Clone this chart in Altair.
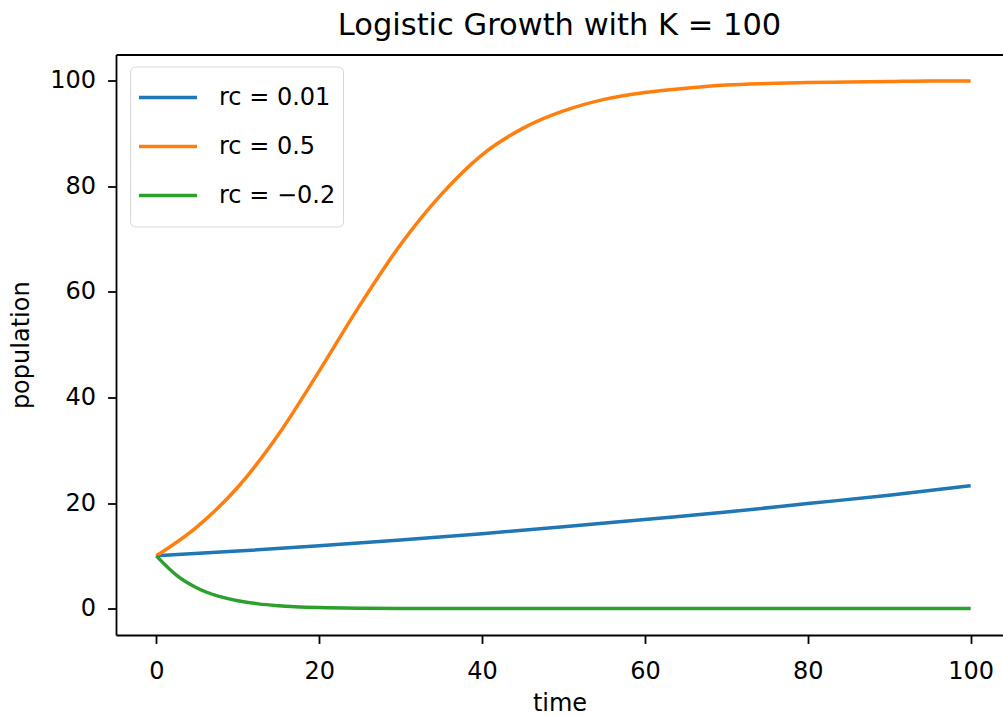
import altair as alt
import pandas as pd

# ---- data ----
series_names = ["rc = 0.01", "rc = 0.5", "rc = \u22120.2"]
series_colors = ["#1f77b4", "#ff7f0e", "#2ca02c"]

t_blue = [0, 10, 20, 30, 40, 50, 60, 70, 80, 90, 100]
v_blue = [10, 10.9, 11.9, 13.0, 14.2, 15.5, 16.9, 18.3, 19.9, 21.5, 23.3]

t_orange = [0, 5, 10, 15, 20, 25, 30, 35, 40, 45, 50, 55, 60, 65, 70, 75, 80, 85, 90, 95, 100]
v_orange = [10, 15.5, 23, 33, 45, 57.5, 69, 78.5, 86, 91, 94.3, 96.5, 97.8, 98.6, 99.2, 99.5,
            99.7, 99.8, 99.9, 100, 100]

t_green = [0, 2.5, 5, 7.5, 10, 12.5, 15, 20, 25, 30, 40, 60, 80, 100]
v_green = [10, 6.3, 3.9, 2.4, 1.5, 0.9, 0.55, 0.2, 0.07, 0.03, 0, 0, 0, 0]

x_ticks = [0, 20, 40, 60, 80, 100]
y_ticks = [0, 20, 40, 60, 80, 100]

rows = []
for name, ts, vs in zip(series_names, [t_blue, t_orange, t_green], [v_blue, v_orange, v_green]):
    for t, v in zip(ts, vs):
        rows.append({"series": name, "time": t, "population": v})
df = pd.DataFrame(rows)

FONT = "DejaVu Sans"
x_scale = alt.Scale(domain=[-4.95, 103.97], nice=False, zero=False)
y_scale = alt.Scale(domain=[-5, 105], nice=False, zero=False)

base = alt.Chart(df)

lines = base.mark_line(strokeWidth=3.5, interpolate="monotone").encode(
    x=alt.X("time:Q", scale=x_scale,
            axis=alt.Axis(values=x_ticks, title="time", labelPadding=16, titlePadding=8,
                          grid=False, format="d")),
    y=alt.Y("population:Q", scale=y_scale,
            axis=alt.Axis(values=y_ticks, title="population", labelPadding=12, titlePadding=16,
                          grid=False, format="d")),
    color=alt.Color("series:N",
                    scale=alt.Scale(domain=series_names, range=series_colors),
                    sort=series_names,
                    legend=alt.Legend(title=None, orient="none", legendX=14, legendY=12,
                                      symbolType="stroke", symbolSize=3364,
                                      symbolStrokeWidth=3.5, labelFont=FONT,
                                      labelFontSize=24, labelColor="black", labelOffset=20,
                                      padding=7, rowPadding=1, clipHeight=48,
                                      strokeColor="#d9d9d9",
                                      fillColor="rgba(255,255,255,0.8)", cornerRadius=5,
                                      labelLimit=400)),
)

top_frame = base.mark_line(opacity=0).encode(
    x=alt.X("time:Q", scale=x_scale,
            axis=alt.Axis(orient="top", labels=False, ticks=False, title=None, grid=False,
                          domain=True)),
    y=alt.Y("population:Q", scale=y_scale, axis=None),
    detail="series:N",
)

chart = alt.layer(lines, top_frame).resolve_axis(x="independent", y="independent").properties(
    width=887,
    height=580.5,
    autosize=alt.AutoSizeParams(type="none"),
    padding={"left": 116, "top": 54.5, "right": 0, "bottom": 82},
    title=alt.TitleParams("Logistic Growth with K = 100", font=FONT, fontSize=30.5,
                          fontWeight="normal", color="black", anchor="middle",
                          baseline="alphabetic", offset=17, dy=28, frame="group"),
).configure_view(stroke=None).configure_axis(
    labelFont=FONT, labelFontSize=24, labelColor="black",
    titleFont=FONT, titleFontSize=24, titleFontWeight="normal", titleColor="black",
    tickColor="black", tickSize=8.4, tickWidth=1.8,
    domainColor="black", domainWidth=1.8,
)

chart.save("out.html", embed_options={"renderer": "svg", "actions": False})
